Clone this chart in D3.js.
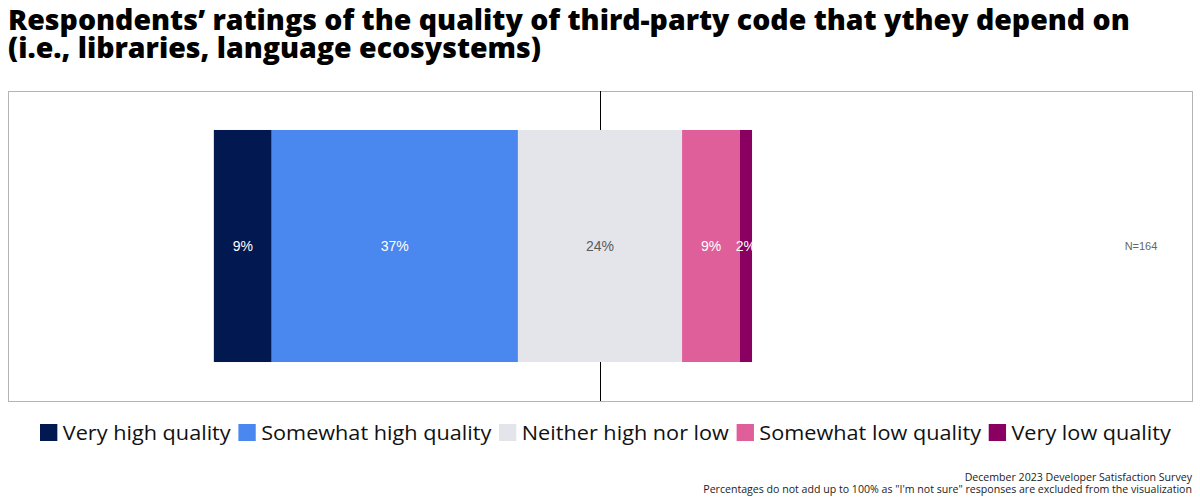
<!DOCTYPE html>
<html>
<head>
<meta charset="utf-8">
<script src="https://cdn.jsdelivr.net/npm/d3@7"></script>
<style>
  body { margin: 0; background: #fff; }
  svg { display: block; }
</style>
</head>
<body>
<script>
// chart data
var categories = ["Very high quality", "Somewhat high quality", "Neither high nor low", "Somewhat low quality", "Very low quality"];
var values = [8.6, 36.6, 24.4, 8.6, 1.8];
var colors = ["#011850", "#4a87ee", "#e4e5ea", "#df5f9a", "#8a0060"];
var labelColors = ["#ffffff", "#ffffff", "#5a5a5a", "#ffffff", "#ffffff"];
var questions = ["third-party code"];
var sampleSize = "N=164";
var titleLines = ["Respondents\u2019 ratings of the quality of third-party code that ythey depend on",
                  "(i.e., libraries, language ecosystems)"];
var notes = ["December 2023 Developer Satisfaction Survey",
             "Percentages do not add up to 100% as \"I'm not sure\" responses are excluded from the visualization"];

var w = 1200, h = 500;
var frame = { left: 8, right: 1192, top: 91, bottom: 401 };

var svg = d3.select("body").append("svg").attr("width", w).attr("height", h);

// shrink/stretch text to a target width, returns the new size
function fitText(sel, target) {
  var len = sel.node().getComputedTextLength();
  var fs = parseFloat(sel.attr("font-size"));
  var nfs = fs * target / len;
  sel.attr("font-size", nfs.toFixed(2));
  return nfs;
}

// title (both lines share the size fitted on line 1)
var t1 = svg.append("text")
   .attr("x", 8).attr("y", 30)
   .attr("font-family", "'Open Sans', sans-serif")
   .attr("font-weight", 800)
   .attr("font-size", 26)
   .attr("fill", "#000")
   .text(titleLines[0]);
var titleSize = fitText(t1, 1122);
svg.append("text")
   .attr("x", 8).attr("y", 58)
   .attr("font-family", "'Open Sans', sans-serif")
   .attr("font-weight", 800)
   .attr("font-size", titleSize.toFixed(2))
   .attr("fill", "#000")
   .text(titleLines[1]);

// scales
var xScale = d3.scaleLinear().domain([-88, 88]).range([frame.left, frame.right]);
var yScale = d3.scaleBand().domain(questions).range([frame.top, frame.bottom]).paddingOuter(0.168);

// frame
svg.append("rect")
   .attr("x", frame.left + 0.5)
   .attr("y", frame.top + 0.5)
   .attr("width", frame.right - frame.left)
   .attr("height", frame.bottom - frame.top)
   .attr("fill", "none")
   .attr("stroke", "#b4b4b4");

// centre line (drawn under the bars)
svg.append("line")
   .attr("x1", xScale(0) + 0.5).attr("x2", xScale(0) + 0.5)
   .attr("y1", frame.top).attr("y2", frame.bottom)
   .attr("stroke", "#000").attr("stroke-width", 1);

// diverging stack: centre on the middle of the neutral segment
var start = -(values[0] + values[1] + values[2] / 2);
var segs = [];
var acc = start;
values.forEach(function(v, i) {
  segs.push({ x0: acc, x1: acc + v, v: v, i: i });
  acc += v;
});

svg.selectAll("rect.seg")
   .data(segs)
   .enter()
   .append("rect")
   .attr("class", "seg")
   .attr("x", function(d) { return xScale(d.x0); })
   .attr("width", function(d) { return xScale(d.x1) - xScale(d.x0); })
   .attr("y", yScale(questions[0]))
   .attr("height", yScale.bandwidth())
   .attr("fill", function(d) { return colors[d.i]; });

var midY = yScale(questions[0]) + yScale.bandwidth() / 2;

svg.selectAll("text.val")
   .data(segs)
   .enter()
   .append("text")
   .attr("class", "val")
   .attr("x", function(d) { return d.i == 4 ? xScale(d.x0) + 6 : (xScale(d.x0) + xScale(d.x1)) / 2; })
   .attr("y", midY)
   .attr("dy", "0.35em")
   .attr("text-anchor", "middle")
   .attr("font-family", "'Liberation Sans', Arial, sans-serif")
   .attr("font-size", 14)
   .attr("fill", function(d) { return labelColors[d.i]; })
   .text(function(d) { return d3.format(".0f")(d.v) + "%"; });

svg.append("text")
   .attr("x", 1141)
   .attr("y", midY)
   .attr("dy", "0.35em")
   .attr("text-anchor", "middle")
   .attr("font-family", "'Liberation Sans', Arial, sans-serif")
   .attr("font-size", 11)
   .attr("fill", "#666")
   .text(sampleSize);

// legend
var legend = svg.append("g");
var lx = 40;
categories.forEach(function(c, i) {
  legend.append("rect")
     .attr("x", lx).attr("y", 424)
     .attr("width", 16).attr("height", 17)
     .attr("fill", colors[i]);
  var t = legend.append("text")
     .attr("x", lx + 21).attr("y", 440)
     .attr("font-family", "'Open Sans', sans-serif")
     .attr("font-size", 20)
     .attr("fill", "#111")
     .text(c);
  lx += 21 + t.node().getComputedTextLength() + 7;
});
// stretch the legend to the reference span
var lw = lx - 7 - 40;
legend.attr("transform", "translate(40,0) scale(" + (1131 / lw) + ",1) translate(-40,0)");

// footnotes (size fitted on the long line)
var n2 = svg.append("text")
   .attr("x", 1192).attr("y", 493)
   .attr("text-anchor", "end")
   .attr("font-family", "'Open Sans', sans-serif")
   .attr("font-size", 10)
   .attr("fill", "#222")
   .text(notes[1]);
var noteSize = fitText(n2, 489);
svg.append("text")
   .attr("x", 1192).attr("y", 481)
   .attr("text-anchor", "end")
   .attr("font-family", "'Open Sans', sans-serif")
   .attr("font-size", noteSize.toFixed(2))
   .attr("fill", "#222")
   .text(notes[0]);
</script>
</body>
</html>
